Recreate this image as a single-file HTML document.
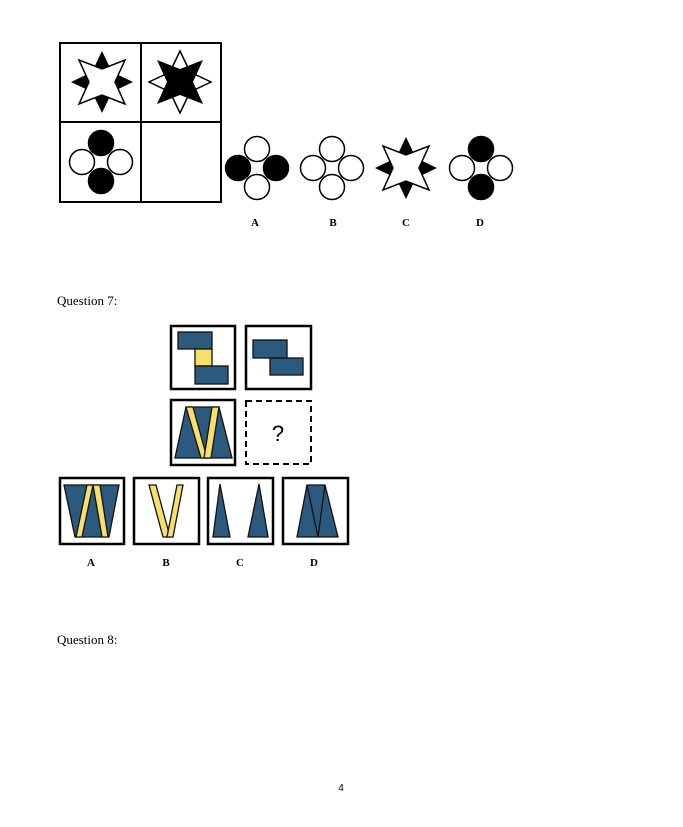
<!DOCTYPE html>
<html><head><meta charset="utf-8"><style>
html,body{margin:0;padding:0;background:#fff;}
svg{display:block;}
.s{font-family:"Liberation Serif",serif;}
.b{font-family:"Liberation Serif",serif;font-weight:bold;font-size:11px;}
</style></head><body>
<svg width="683" height="827" viewBox="0 0 683 827" xmlns="http://www.w3.org/2000/svg">
<defs>
<polygon id="card" points="0,-31 10,-10 31,0 10,10 0,31 -10,10 -31,0 -10,-10"/>
<polygon id="diag" points="-23,-22 0,-13 23,-22 13,0 23,22 0,13 -23,22 -13,0"/>
<g id="cl">
<circle cx="0" cy="-19" r="12.5"/><circle cx="0" cy="19" r="12.5"/>
<circle cx="-19" cy="0" r="12.5"/><circle cx="19" cy="0" r="12.5"/>
</g>
</defs>
<!-- Q6 grid -->
<rect x="60" y="43" width="161" height="159" fill="none" stroke="#000" stroke-width="2"/>
<line x1="141" y1="43" x2="141" y2="202" stroke="#000" stroke-width="2"/>
<line x1="60" y1="122" x2="221" y2="122" stroke="#000" stroke-width="2"/>
<g transform="translate(102,82)"><use href="#card" fill="#000"/><use href="#diag" fill="#fff" stroke="#000" stroke-width="1.5"/></g>
<g transform="translate(180,82)"><use href="#card" fill="#fff" stroke="#000" stroke-width="1.5"/><use href="#diag" fill="#000"/></g>
<g transform="translate(101,162)" stroke="#000" stroke-width="1.5">
<circle cx="0" cy="-19" r="12.5" fill="#000"/><circle cx="0" cy="19" r="12.5" fill="#000"/>
<circle cx="-19" cy="0" r="12.5" fill="#fff"/><circle cx="19" cy="0" r="12.5" fill="#fff"/></g>
<g transform="translate(257,168)" stroke="#000" stroke-width="1.5">
<circle cx="0" cy="-19" r="12.5" fill="#fff"/><circle cx="0" cy="19" r="12.5" fill="#fff"/>
<circle cx="-19" cy="0" r="12.5" fill="#000"/><circle cx="19" cy="0" r="12.5" fill="#000"/></g>
<g transform="translate(332,168)" stroke="#000" stroke-width="1.5" fill="#fff"><use href="#cl"/></g>
<g transform="translate(406,168)"><use href="#card" fill="#000"/><use href="#diag" fill="#fff" stroke="#000" stroke-width="1.5"/></g>
<g transform="translate(481,168)" stroke="#000" stroke-width="1.5">
<circle cx="0" cy="-19" r="12.5" fill="#000"/><circle cx="0" cy="19" r="12.5" fill="#000"/>
<circle cx="-19" cy="0" r="12.5" fill="#fff"/><circle cx="19" cy="0" r="12.5" fill="#fff"/></g>
<text class="b" x="255" y="226" text-anchor="middle">A</text>
<text class="b" x="333" y="226" text-anchor="middle">B</text>
<text class="b" x="406" y="226" text-anchor="middle">C</text>
<text class="b" x="480" y="226" text-anchor="middle">D</text>

<text class="s" x="57" y="305" font-size="13">Question 7:</text>
<g stroke="#000" stroke-width="2.5" fill="none">
<rect x="171" y="326" width="64" height="63"/>
<rect x="246" y="326" width="65" height="63"/>
<rect x="171" y="400" width="64" height="65"/>
<rect x="246" y="401" width="65" height="63" stroke-dasharray="6,4" stroke-width="2"/>
<rect x="60" y="478" width="64" height="66"/>
<rect x="134" y="478" width="65" height="66"/>
<rect x="208" y="478" width="65" height="66"/>
<rect x="283" y="478" width="65" height="66"/>
</g>
<g stroke="#111" stroke-width="1.3">
<rect x="178" y="332" width="34" height="17" fill="#2b5a7e"/>
<rect x="195" y="349" width="17" height="17" fill="#f6df6b"/>
<rect x="195" y="366" width="33" height="18" fill="#2b5a7e"/>
<rect x="253" y="340" width="34" height="18" fill="#2b5a7e"/>
<rect x="270" y="358" width="33" height="17" fill="#2b5a7e"/>
<polygon points="186,407 219,407 232,458 175,458" fill="#2b5a7e"/>
<polygon points="186,407 193,407 207,458 201,458" fill="#f6df6b"/>
<polygon points="212,407 219,407 211,458 204,458" fill="#f6df6b"/>
<polygon points="64,485 119,485 109,537 75,537" fill="#2b5a7e"/>
<polygon points="87,485 93,485 82,537 76,537" fill="#f6df6b"/>
<polygon points="93,485 100,485 108,537 102,537" fill="#f6df6b"/>
<polygon points="149,485 156,485 170,537 163,537" fill="#f6df6b"/>
<polygon points="177,485 183,485 173,537 167,537" fill="#f6df6b"/>
<polygon points="220,484 230,537 213,537" fill="#2b5a7e"/>
<polygon points="259,484 268,537 248,537" fill="#2b5a7e"/>
<polygon points="307,485 325,485 338,537 297,537" fill="#2b5a7e"/>
<polyline points="307,485 318,537 325,485" fill="none"/>
</g>
<text x="278" y="441" font-family="Liberation Sans,sans-serif" font-size="22" text-anchor="middle">?</text>
<text class="b" x="91" y="566" text-anchor="middle">A</text>
<text class="b" x="166" y="566" text-anchor="middle">B</text>
<text class="b" x="240" y="566" text-anchor="middle">C</text>
<text class="b" x="314" y="566" text-anchor="middle">D</text>

<text class="s" x="57" y="644" font-size="13">Question 8:</text>
<text x="341" y="791" font-family="Liberation Sans,sans-serif" font-size="10" text-anchor="middle">4</text>
</svg>
</body></html>
